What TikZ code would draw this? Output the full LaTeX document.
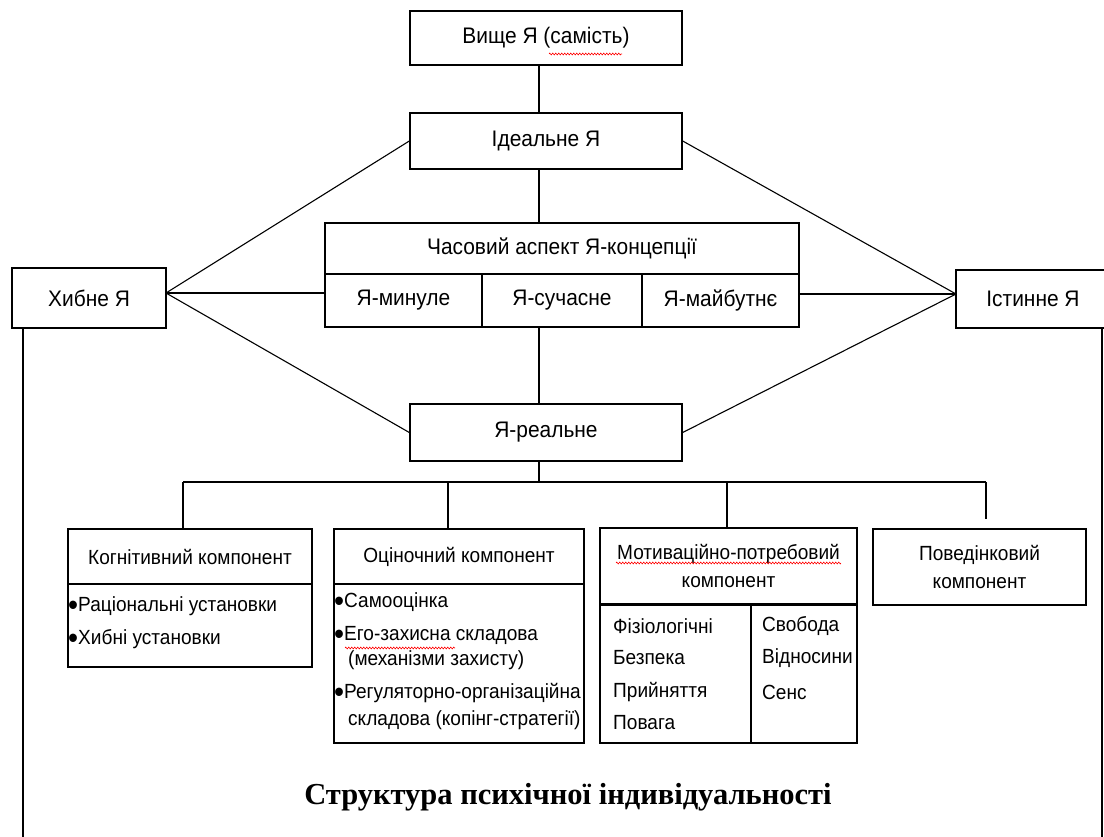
\documentclass[tikz,border=0pt]{standalone}
\usepackage{graphicx}
\usepackage{fontspec}
\setmainfont{Liberation Sans}[FakeStretch=0.93]
\newfontfamily\titlefont{Liberation Serif}
\usetikzlibrary{decorations.pathmorphing}
\newcommand\dfont{\fontsize{20.5}{28}\selectfont}
\newcommand\tfont{\fontsize{22.5}{28}\selectfont}
\newcommand\bul{\raisebox{-4pt}{\scalebox{1.5}{•}}}
\begin{document}
\begin{tikzpicture}[x=1pt,y=-1pt,
  box/.style={draw, line width=1.4pt, inner sep=0pt, font=\dfont, align=center},
  topbox/.style={box, font=\tfont},
  conn/.style={line width=1.1pt},
  txt/.style={inner sep=0pt, anchor=west, font=\dfont},
  spell/.style={draw=red, line width=0.6pt, decorate, decoration={zigzag, segment length=3pt, amplitude=0.9pt}}]
\useasboundingbox (0,0) rectangle (1104,837);
% top part
\node[topbox, minimum width=272, minimum height=54] (top) at (546,38) {Вище Я (самість)};
\node[topbox, minimum width=272, minimum height=56] (ideal) at (546,141) {Ідеальне Я};
\node[topbox, minimum width=474, minimum height=51] (chas) at (562,248.5) {Часовий аспект Я-концепції};
\node[topbox, minimum width=157, minimum height=53] (min) at (403.5,300.5) {Я-минуле};
\node[topbox, minimum width=160, minimum height=53] (suc) at (562,300.5) {Я-сучасне};
\node[topbox, minimum width=157, minimum height=53] (maib) at (720.5,300.5) {Я-майбутнє};
\node[topbox, minimum width=154, minimum height=60] (hyb) at (89,298) {Хибне Я};
\node[topbox, minimum width=154, minimum height=58] (ist) at (1033,299) {Істинне Я};
\node[topbox, minimum width=272, minimum height=57] (real) at (546,432.5) {Я-реальне};
% helper coordinates
\coordinate (vx) at (539,0);
\coordinate (hybR) at (166,293);
\coordinate (istL) at (956,294);
\draw[conn] (top.south -| vx) -- (ideal.north -| vx);
\draw[conn] (ideal.south -| vx) -- (chas.north -| vx);
\draw[conn] (suc.south -| vx) -- (real.north -| vx);
\draw[conn] (hybR) -- (ideal.west);
\draw[conn] (hybR) -- (hybR -| min.west);
\draw[conn] (hybR) -- (real.west);
\draw[conn] (istL) -- (ideal.east);
\draw[conn] (istL) -- (istL -| maib.east);
\draw[conn] (istL) -- (real.east);
% components
\node[box, minimum width=244, minimum height=55] (kog) at (190,556.5) {Когнітивний компонент};
\node[box, minimum width=244, minimum height=83] (kogb) at (190,625.5) {};
\node[box, minimum width=250, minimum height=55] (ocin) at (459,556.5) {Оціночний компонент};
\node[box, minimum width=250, minimum height=159] (ocinb) at (459,663.5) {};
\node[box, minimum width=257, minimum height=76] (mot) at (728.5,566) {Мотиваційно-потребовий\\компонент};
\node[box, minimum width=151, minimum height=138] (motl) at (675.5,674) {};
\node[box, minimum width=106, minimum height=138] (motr) at (804,674) {};
\node[box, minimum width=213, minimum height=76] (pov) at (979.5,567) {Поведінковий\\компонент};
% bus
\coordinate (b0) at (183,482);
\coordinate (b1) at (448,482);
\coordinate (b2) at (727,482);
\coordinate (b3) at (986,482);
\coordinate (b3e) at (986,519);
\draw[conn] (real.south -| vx) -- (vx |- b0);
\draw[conn] (b0) -- (b3);
\draw[conn] (b0) -- (b0 |- kog.north);
\draw[conn] (b1) -- (b1 |- ocin.north);
\draw[conn] (b2) -- (b2 |- mot.north);
\draw[conn] (b3) -- (b3e);
% long side lines
\coordinate (lb) at (23,837);
\coordinate (rb) at (1102,837);
\draw[conn] (lb |- hyb.south) -- (lb);
\draw[conn] (rb |- ist.south) -- (rb);
% body texts
\node[txt] (k1) at (68,606) {\bul Раціональні установки};
\node[txt] (k2) at (68,639) {\bul Хибні установки};
\node[txt] (o1) at (334,602) {\bul Самооцінка};
\node[txt] (o2) at (334,635) {\bul Его-захисна складова};
\node[txt] (o3) at (348,660) {(механізми захисту)};
\node[txt] (o4) at (334,693) {\bul Регуляторно-організаційна};
\node[txt] (o5) at (348,720) {складова (копінг-стратегії)};
\node[txt] (m1) at (613,626) {Фізіологічні};
\node[txt] (m2) at (613,658) {Безпека};
\node[txt] (m3) at (613,692) {Прийняття};
\node[txt] (m4) at (613,723) {Повага};
\node[txt] (m5) at (762,626) {Свобода};
\node[txt] (m6) at (762,658) {Відносини};
\node[txt] (m7) at (762,692) {Сенс};
% spell-check underlines
\draw[spell] (549,54) -- (622,54);
\draw[spell] (345,648) -- (455,648);
\draw[spell] (616,563) -- (841,563);
% title
\node[inner sep=0pt, font=\titlefont\bfseries\fontsize{30.5}{36}\selectfont] (title) at (568,797) {Структура психічної індивідуальності};
\end{tikzpicture}
\end{document}
